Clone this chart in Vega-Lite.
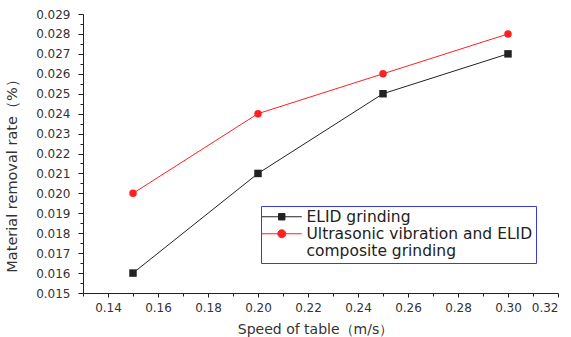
{
  "$schema": "https://vega.github.io/schema/vega-lite/v6.json",
  "autosize": {"type": "none"},
  "padding": {"left": 83, "top": 14, "right": 13, "bottom": 44},
  "width": 475,
  "height": 279,
  "background": "white",
  "config": {
    "view": {"stroke": null},
    "font": "DejaVu Sans",
    "axis": {"labelFont": "DejaVu Sans", "titleFont": "DejaVu Sans", "labelColor": "#333", "titleColor": "#333", "domainColor": "#222", "tickColor": "#222", "grid": false}
  },
  "data": {
    "values": [
      {"speed": 0.15, "rate": 0.016, "series": "ELID grinding"},
      {"speed": 0.20, "rate": 0.021, "series": "ELID grinding"},
      {"speed": 0.25, "rate": 0.025, "series": "ELID grinding"},
      {"speed": 0.30, "rate": 0.027, "series": "ELID grinding"},
      {"speed": 0.15, "rate": 0.020, "series": "Ultrasonic vibration and ELID composite grinding"},
      {"speed": 0.20, "rate": 0.024, "series": "Ultrasonic vibration and ELID composite grinding"},
      {"speed": 0.25, "rate": 0.026, "series": "Ultrasonic vibration and ELID composite grinding"},
      {"speed": 0.30, "rate": 0.028, "series": "Ultrasonic vibration and ELID composite grinding"}
    ]
  },
  "resolve": {"axis": {"x": "independent", "y": "independent"}},
  "layer": [
    {
      "mark": {"type": "line", "strokeWidth": 1},
      "encoding": {
        "x": {"field": "speed", "type": "quantitative", "scale": {"domain": [0.13, 0.32], "nice": false, "zero": false},
          "axis": {"orient": "bottom", "values": [0.14, 0.16, 0.18, 0.20, 0.22, 0.24, 0.26, 0.28, 0.30, 0.32], "format": ".2f", "tickSize": 4, "labelFontSize": 12, "labelPadding": 5, "title": "Speed of table（m/s）", "titleFontSize": 14, "titleFontWeight": "normal", "titleX": 232, "titleY": 36, "titleBaseline": "middle", "titleAnchor": "middle", "titleAlign": "center"}},
        "y": {"field": "rate", "type": "quantitative", "scale": {"domain": [0.015, 0.029], "nice": false, "zero": false},
          "axis": {"orient": "left", "values": [0.015, 0.016, 0.017, 0.018, 0.019, 0.020, 0.021, 0.022, 0.023, 0.024, 0.025, 0.026, 0.027, 0.028, 0.029], "format": ".3f", "tickSize": 5, "labelFontSize": 12, "labelPadding": 8, "title": "Material removal rate（%）", "titleFontSize": 14.5, "titleFontWeight": "normal", "titleAngle": -90, "titleX": -71, "titleY": 158, "titleBaseline": "middle", "titleAlign": "center"}},
        "color": {"field": "series", "type": "nominal",
          "scale": {"domain": ["ELID grinding", "Ultrasonic vibration and ELID composite grinding"], "range": ["#222222", "#ff2020"]},
          "legend": {
            "orient": "none", "legendX": 178, "legendY": 192, "title": null,
            "padding": 3, "strokeColor": "#3b3bd6", "fillColor": "white",
            "labelFont": "DejaVu Sans", "labelFontSize": 15.5, "labelColor": "#222", "labelLimit": 400,
            "symbolSize": 64, "symbolOffset": 10, "labelOffset": 17, "rowPadding": 0,
            "labelExpr": "datum.label === 'ELID grinding' ? datum.label : ['Ultrasonic vibration and ELID', 'composite grinding']",
            "encode": {
              "symbols": {"update": {
                "shape": {"signal": "datum.value === 'ELID grinding' ? 'M-5,0H5M-0.8,-0.8H0.8V0.8H-0.8Z' : 'M-5,0H5M1,0A1,1,0,1,1,-1,0A1,1,0,1,1,1,0Z'"},
                "fill": {"signal": "datum.value === 'ELID grinding' ? 'black' : 'red'"},
                "stroke": {"signal": "datum.value === 'ELID grinding' ? 'black' : 'red'"},
                "strokeWidth": {"value": 1},
                "opacity": {"value": 1},
                "fillOpacity": {"value": 1}
              }},
              "labels": {"update": {"lineHeight": {"value": 17}}}
            }
          }}
      }
    },
    {
      "mark": {"type": "point", "filled": true, "opacity": 1},
      "encoding": {
        "x": {"field": "speed", "type": "quantitative", "axis": null},
        "y": {"field": "rate", "type": "quantitative", "axis": null},
        "color": {"field": "series", "type": "nominal"},
        "shape": {"field": "series", "type": "nominal", "scale": {"range": ["square", "circle"]}, "legend": null},
        "size": {"value": 56}
      }
    },
    {
      "mark": {"type": "point", "opacity": 0},
      "encoding": {
        "x": {"field": "speed", "type": "quantitative",
          "axis": {"orient": "bottom", "values": [0.13, 0.15, 0.17, 0.19, 0.21, 0.23, 0.25, 0.27, 0.29, 0.31], "labels": false, "domain": false, "tickSize": 3, "title": null}},
        "y": {"field": "rate", "type": "quantitative",
          "axis": {"orient": "left", "values": [0.0155, 0.0165, 0.0175, 0.0185, 0.0195, 0.0205, 0.0215, 0.0225, 0.0235, 0.0245, 0.0255, 0.0265, 0.0275, 0.0285], "labels": false, "domain": false, "tickSize": 3, "title": null}}
      }
    }
  ]
}
